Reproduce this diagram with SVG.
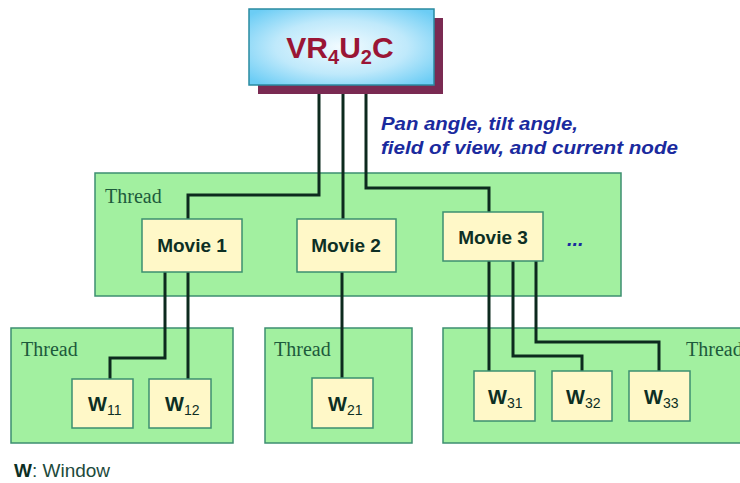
<svg xmlns="http://www.w3.org/2000/svg" width="740" height="483" viewBox="0 0 740 483">
<defs>
<radialGradient id="blue" cx="50%" cy="50%" r="65%">
<stop offset="0" stop-color="#f2fbff"/>
<stop offset="0.55" stop-color="#bfe9fb"/>
<stop offset="1" stop-color="#6ccdf5"/>
</radialGradient>
</defs>
<style>
.thread{fill:#a2f0a0;stroke:#3c8f70;stroke-width:1.5}
.box{fill:#fff8c8;stroke:#3c8f70;stroke-width:1.5}
.tl{font-family:"Liberation Serif",serif;font-size:20px;fill:#1d5a3c}
.mv{font-family:"Liberation Sans",Arial,sans-serif;font-size:19px;font-weight:bold;fill:#0d2f24;text-anchor:middle}
.w{font-family:"Liberation Sans",Arial,sans-serif;font-size:20px;font-weight:bold;fill:#0d2f24}
.ws{font-size:14px;font-weight:normal}
.conn{fill:none;stroke:#0d2a1e;stroke-width:3}
.note{font-family:"Liberation Sans",Arial,sans-serif;font-size:18px;font-weight:bold;font-style:italic;fill:#1a2a9e}
</style>
<g id="thread-mid"><rect class="thread" x="95" y="173" width="526" height="123"/><text class="tl" x="105" y="203">Thread</text></g>
<g id="thread-1"><rect class="thread" x="11" y="328" width="222" height="115"/><text class="tl" x="21" y="356">Thread</text></g>
<g id="thread-2"><rect class="thread" x="265" y="328" width="147" height="115"/><text class="tl" x="274" y="356">Thread</text></g>
<g id="thread-3"><rect class="thread" x="443" y="328" width="310" height="115"/><text class="tl" x="686" y="356">Thread</text></g>
<g id="connectors">
<polyline class="conn" points="319,85 319,195 188,195 188,219"/>
<polyline class="conn" points="343,85 343,219"/>
<polyline class="conn" points="366,85 366,188 489,188 489,212"/>
<polyline class="conn" points="165,272 165,358 110,358 110,379"/>
<polyline class="conn" points="188,272 188,379"/>
<polyline class="conn" points="342,272 342,378"/>
<polyline class="conn" points="489,261 489,371"/>
<polyline class="conn" points="513,261 513,356 582,356 582,371"/>
<polyline class="conn" points="536,261 536,342 659,342 659,371"/>
</g>
<g id="vr4u2c">
<rect x="258" y="18" width="185" height="76" fill="#7a2a52"/>
<rect x="249" y="9" width="185" height="76" fill="url(#blue)" stroke="#2a8aa0" stroke-width="1.5"/>
<text x="340" y="58" text-anchor="middle" font-family="'Liberation Sans',Arial,sans-serif" font-weight="bold" font-size="30" fill="#9a1535">VR<tspan font-size="20" dy="6">4</tspan><tspan dy="-6">U</tspan><tspan font-size="20" dy="6">2</tspan><tspan dy="-6">C</tspan></text>
</g>
<g id="note">
<text class="note" x="381" y="130" textLength="197" lengthAdjust="spacingAndGlyphs">Pan angle, tilt angle,</text>
<text class="note" x="381" y="154" textLength="297" lengthAdjust="spacingAndGlyphs">field of view, and current node</text>
</g>
<g id="movie1"><rect class="box" x="142" y="219" width="100" height="53"/><text class="mv" x="192" y="252">Movie 1</text></g>
<g id="movie2"><rect class="box" x="297" y="219" width="99" height="53"/><text class="mv" x="346" y="252">Movie 2</text></g>
<g id="movie3"><rect class="box" x="443" y="212" width="100" height="49"/><text class="mv" x="493" y="244">Movie 3</text></g>
<g id="dots"><text x="567" y="246" font-family="'Liberation Sans',Arial,sans-serif" font-size="20" font-weight="bold" font-style="italic" fill="#1a2a9e">...</text></g>
<g id="w11"><rect class="box" x="72" y="379" width="61" height="49"/><text class="w" x="88" y="411">W<tspan class="ws" dy="4">11</tspan></text></g>
<g id="w12"><rect class="box" x="149" y="379" width="62" height="49"/><text class="w" x="165" y="411">W<tspan class="ws" dy="4">12</tspan></text></g>
<g id="w21"><rect class="box" x="312" y="378" width="61" height="50"/><text class="w" x="328" y="411">W<tspan class="ws" dy="4">21</tspan></text></g>
<g id="w31"><rect class="box" x="474" y="371" width="61" height="50"/><text class="w" x="488" y="404">W<tspan class="ws" dy="4">31</tspan></text></g>
<g id="w32"><rect class="box" x="552" y="371" width="60" height="50"/><text class="w" x="566" y="404">W<tspan class="ws" dy="4">32</tspan></text></g>
<g id="w33"><rect class="box" x="629" y="371" width="61" height="50"/><text class="w" x="644" y="404">W<tspan class="ws" dy="4">33</tspan></text></g>
<g id="legend"><text x="14" y="477" font-family="'Liberation Sans',Arial,sans-serif" font-size="19" fill="#1d4a3c"><tspan font-weight="bold" fill="#0d2f24">W</tspan>: Window</text></g>
</svg>
